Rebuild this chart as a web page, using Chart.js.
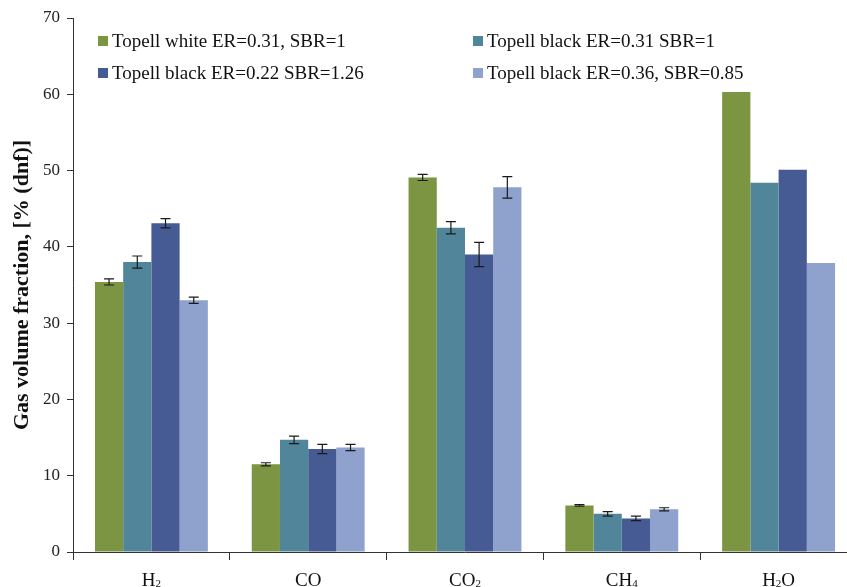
<!DOCTYPE html>
<html>
<head>
<meta charset="utf-8">
<script src="https://cdn.jsdelivr.net/npm/chart.js@4/dist/chart.umd.min.js"></script>
<style>
  html, body { margin: 0; padding: 0; background: #fff; overflow: hidden; }
  #wrap { width: 870px; height: 587px; position: relative; }
</style>
</head>
<body>
<div id="wrap"><canvas id="gasChart"></canvas></div>
<script>
// categories and series
const gases = ['H2', 'CO', 'CO2', 'CH4', 'H2O'];
// same names split into main text / subscript parts for drawing
const gasParts = [
  [['H', false], ['2', true]],
  [['CO', false]],
  [['CO', false], ['2', true]],
  [['CH', false], ['4', true]],
  [['H', false], ['2', true], ['O', false]]
];
const seriesLabels = [
  'Topell white ER=0.31, SBR=1',
  'Topell black ER=0.31 SBR=1',
  'Topell black ER=0.22 SBR=1.26',
  'Topell black ER=0.36, SBR=0.85'
];
const whiteER031 = [35.4, 11.5, 49.1, 6.1, 60.3];
const blackER031 = [38.0, 14.7, 42.5, 5.0, 48.4];
const blackER022 = [43.1, 13.5, 39.0, 4.4, 50.1];
const blackER036 = [33.0, 13.7, 47.8, 5.6, 37.9];

// error bar half-widths (none on H2O)
const errWhite031 = [0.4, 0.2, 0.4, 0.1, 0];
const errBlack031 = [0.8, 0.5, 0.8, 0.3, 0];
const errBlack022 = [0.6, 0.6, 1.6, 0.3, 0];
const errBlack036 = [0.4, 0.4, 1.4, 0.2, 0];

const yTicks = [0, 10, 20, 30, 40, 50, 60, 70];

const colors = ['#7b9542', '#518599', '#465a93', '#8fa2cd'];
const values = [whiteER031, blackER031, blackER022, blackER036];
const errors = [errWhite031, errBlack031, errBlack022, errBlack036];
const serif = '"Liberation Serif", "Times New Roman", serif';

// whiskers drawn over the bars
const errorBars = {
  id: 'errorBars',
  afterDatasetsDraw(chart) {
    const ctx = chart.ctx;
    const y = chart.scales.y;
    ctx.save();
    ctx.strokeStyle = '#1a1a1a';
    ctx.lineWidth = 1.2;
    chart.data.datasets.forEach((ds, i) => {
      const meta = chart.getDatasetMeta(i);
      meta.data.forEach((bar, j) => {
        const e = ds.errors[j];
        if (!e) return;
        const top = y.getPixelForValue(ds.data[j] + e);
        const bot = y.getPixelForValue(ds.data[j] - e);
        ctx.beginPath();
        ctx.moveTo(bar.x, top); ctx.lineTo(bar.x, bot);
        ctx.moveTo(bar.x - 5, top); ctx.lineTo(bar.x + 5, top);
        ctx.moveTo(bar.x - 5, bot); ctx.lineTo(bar.x + 5, bot);
        ctx.stroke();
      });
    });
    ctx.restore();
  }
};

// two-column legend inside the plot area
const boxLegend = {
  id: 'boxLegend',
  afterDraw(chart) {
    const ctx = chart.ctx;
    const cols = [98, 473];
    const rows = [41, 73];
    ctx.save();
    ctx.font = '19px ' + serif;
    ctx.textBaseline = 'middle';
    chart.data.datasets.forEach((ds, i) => {
      const x = cols[i % 2];
      const y = rows[Math.floor(i / 2)];
      ctx.fillStyle = ds.backgroundColor;
      ctx.fillRect(x, y - 5, 10, 10);
      ctx.fillStyle = '#111';
      ctx.fillText(ds.label, x + 14, y + 1);
    });
    ctx.restore();
  }
};

// category labels with small subscripts
const gasLabels = {
  id: 'gasLabels',
  afterDraw(chart) {
    const ctx = chart.ctx;
    const xs = chart.scales.x;
    const base = xs.bottom - 1;
    const fontFor = sub => (sub ? '11px ' : '19px ') + serif;
    ctx.save();
    ctx.fillStyle = '#111';
    ctx.textBaseline = 'alphabetic';
    gasParts.forEach((parts, i) => {
      let w = 0;
      parts.forEach(([t, sub]) => { ctx.font = fontFor(sub); w += ctx.measureText(t).width; });
      let x = xs.getPixelForValue(i) - w / 2;
      parts.forEach(([t, sub]) => {
        ctx.font = fontFor(sub);
        ctx.fillText(t, x, base + (sub ? 1 : 0));
        x += ctx.measureText(t).width;
      });
    });
    ctx.restore();
  }
};

new Chart(document.getElementById('gasChart'), {
  type: 'bar',
  data: {
    labels: gases,
    datasets: values.map((v, i) => ({
      label: seriesLabels[i],
      data: v,
      errors: errors[i],
      backgroundColor: colors[i],
      borderWidth: 0,
      categoryPercentage: 0.72,
      barPercentage: 1.0
    }))
  },
  options: {
    responsive: true,
    maintainAspectRatio: false,
    animation: false,
    layout: { padding: { top: 18, right: 13, left: 9, bottom: 0 } },
    plugins: {
      legend: { display: false },
      tooltip: { enabled: false }
    },
    scales: {
      x: {
        grid: {
          display: true,
          offset: true,
          drawOnChartArea: false,
          drawTicks: true,
          tickLength: 8,
          color: '#333'
        },
        border: { color: '#333', width: 1 },
        ticks: { display: false },
        afterFit(scale) { scale.height = 35; }
      },
      y: {
        min: 0,
        max: 70,
        afterBuildTicks(scale) { scale.ticks = yTicks.map(v => ({ value: v })); },
        grid: {
          drawOnChartArea: false,
          drawTicks: true,
          tickLength: 6,
          color: '#333'
        },
        border: { color: '#333', width: 1 },
        ticks: {
          color: '#222',
          padding: 7,
          font: { family: serif, size: 17 }
        },
        title: {
          display: true,
          text: 'Gas volume fraction, [% (dnf)]',
          color: '#111',
          padding: { top: 0, bottom: 0 },
          font: { family: serif, size: 22, weight: 'bold' }
        },
        afterFit(scale) { scale.width = 64; }
      }
    }
  },
  plugins: [errorBars, boxLegend, gasLabels]
});
</script>
</body>
</html>
